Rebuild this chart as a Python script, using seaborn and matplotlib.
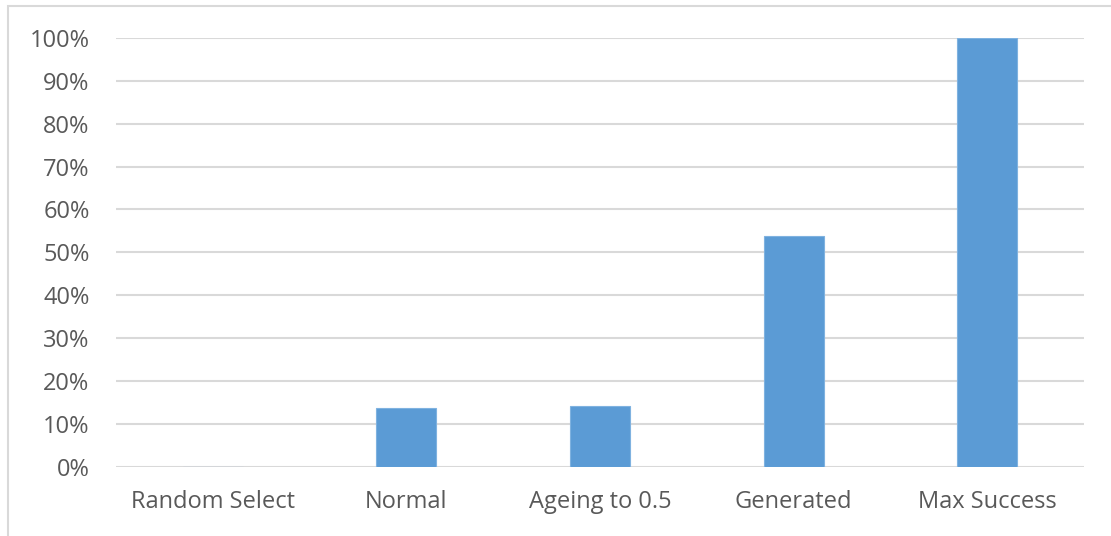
import matplotlib
matplotlib.use("Agg")
import matplotlib.pyplot as plt
from matplotlib.patches import Rectangle
from matplotlib.ticker import FuncFormatter, MultipleLocator
import seaborn as sns
import pandas as pd

# Success rate per selection strategy
strategies = ["Random Select", "Normal", "Ageing to 0.5", "Generated", "Max Success"]
success_rate = [0.0, 0.136, 0.142, 0.537, 1.0]

df = pd.DataFrame({"strategy": strategies, "rate": success_rate})

sns.set_theme(style="white")
plt.rcParams["font.family"] = ["Open Sans", "DejaVu Sans"]

text_color = "#595959"
grid_color = "#D9D9D9"
bar_color = "#5B9BD5"

fig = plt.figure(figsize=(11.11, 5.36), dpi=100)
ax = fig.add_axes([116 / 1111, 69.3 / 536, 968 / 1111, 428.7 / 536])

sns.barplot(data=df, x="strategy", y="rate", color=bar_color, width=0.31,
            edgecolor="#7FB2E0", linewidth=0.8, saturation=1, ax=ax, zorder=3)

ax.set_xlim(-0.5, len(strategies) - 0.5)
ax.set_ylim(0, 1.0)
ax.yaxis.set_major_locator(MultipleLocator(0.1))
ax.yaxis.set_major_formatter(FuncFormatter(lambda v, _: f"{v * 100:.0f}%"))
ax.grid(axis="y", color=grid_color, linewidth=1.5, zorder=0)
ax.set_axisbelow(True)
for side in ["top", "right", "left", "bottom"]:
    ax.spines[side].set_visible(False)
ax.set_xlabel("")
ax.set_ylabel("")
ax.tick_params(axis="both", length=0, labelsize=17, colors=text_color)
ax.tick_params(axis="y", pad=19)
ax.tick_params(axis="x", pad=17)
ax.set_ylim(0, 1.0)

# Light frame around the chart area
fig.patches.append(Rectangle((8 / 1111, -0.1), 1.2, (530 / 536) + 0.1,
                             transform=fig.transFigure, fill=False,
                             edgecolor="#D9D9D9", linewidth=1.5))

fig.savefig("out.png", dpi=100, facecolor="white")
